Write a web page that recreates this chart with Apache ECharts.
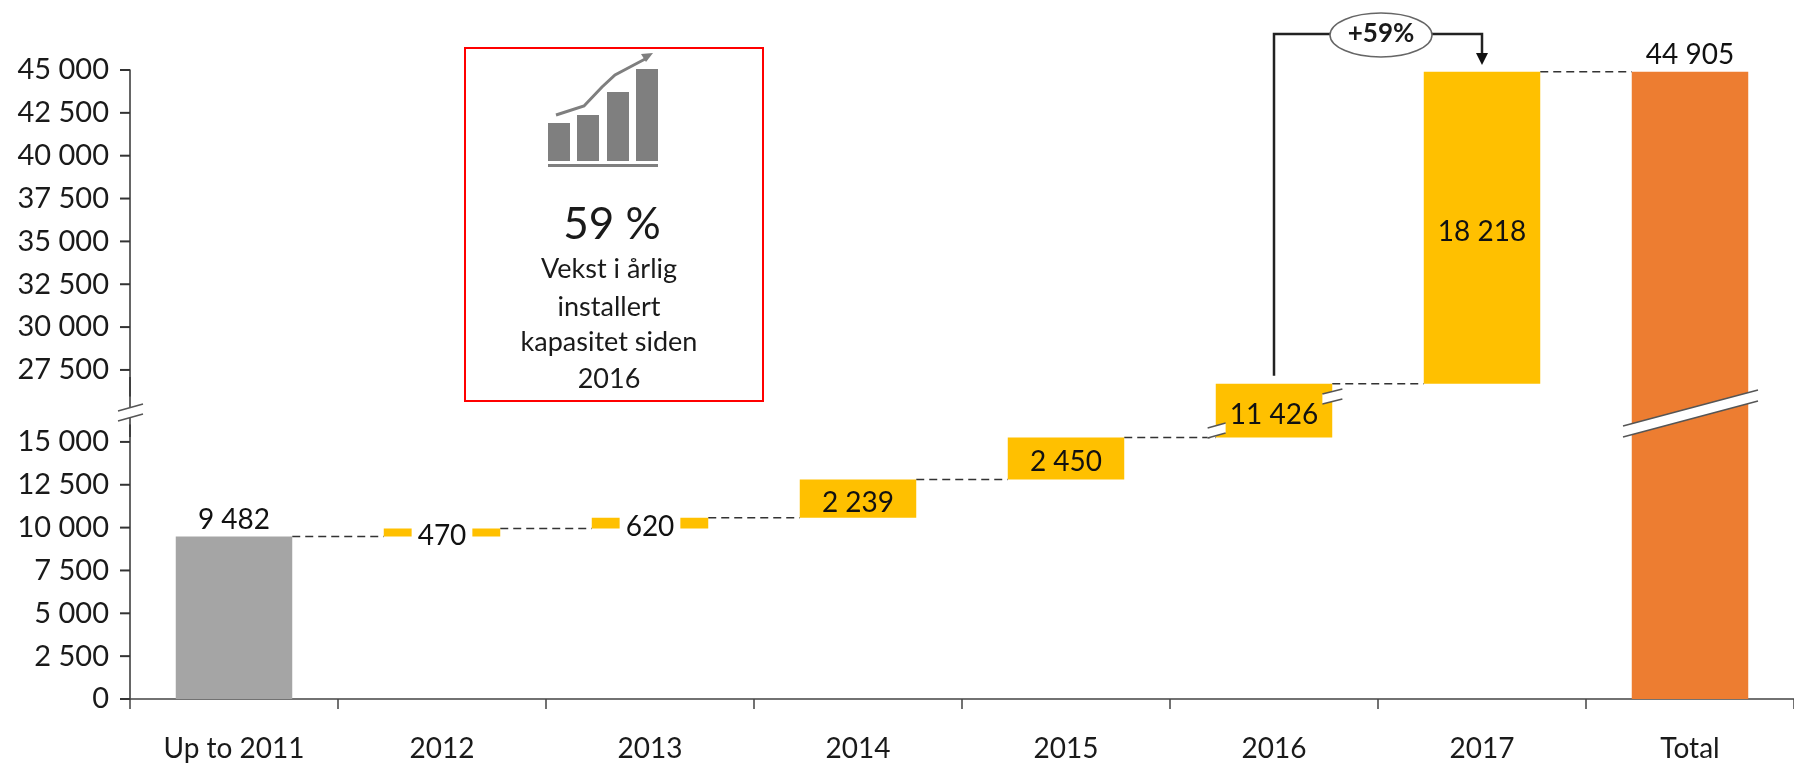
<!DOCTYPE html>
<html>
<head>
<meta charset="utf-8">
<style>
  html, body { margin: 0; padding: 0; background: #fff; }
  #chart { width: 1794px; height: 763px; }
</style>
<script src="https://cdn.jsdelivr.net/npm/echarts@6/dist/echarts.min.js"></script>
</head>
<body>
<div id="chart"></div>
<script>
// Installert kapasitet, vannfall
const categories = ['Up to 2011', '2012', '2013', '2014', '2015', '2016', '2017', 'Total'];
const baseValues = [0, 9482, 9952, 10572, 12811, 15261, 26687, 0];
const barValues = [9482, 470, 620, 2239, 2450, 11426, 18218, 44905];
const barLabels = ['9 482', '470', '620', '2 239', '2 450', '11 426', '18 218', '44 905'];
const barColors = ['#A5A5A5', '#FFC000', '#FFC000', '#FFC000', '#FFC000', '#FFC000', '#FFC000', '#ED7D31'];
const connectorLevels = [9482, 9952, 10572, 12811, 15261, 26687, 44905];
const yTicks = [0, 2500, 5000, 7500, 10000, 12500, 15000, 27500, 30000, 32500, 35000, 37500, 40000, 42500, 45000];
const boxLines = ['Vekst i årlig', 'installert', 'kapasitet siden', '2016'];

const FONT = 'Lato, "Noto Sans", sans-serif';
const TEXT = '#1a1a1a';
const BAR_SHARE = 0.56;
const LABEL_SIZE = 28;

const chart = echarts.init(document.getElementById('chart'), null, { renderer: 'canvas' });

function spaced(v) {
    return String(v).replace(/\B(?=(\d{3})+$)/g, ' ');
}

chart.setOption({
    animation: false,
    backgroundColor: '#fff',
    textStyle: { fontFamily: FONT },
    grid: { left: 130, top: 70, width: 1668, height: 629, containLabel: false },
    xAxis: {
        type: 'category',
        data: categories,
        axisLine: { lineStyle: { color: '#444', width: 1.5 } },
        axisTick: { show: true, alignWithLabel: false, interval: 0, length: 10, lineStyle: { color: '#444', width: 1.5 } },
        axisLabel: { color: TEXT, fontSize: LABEL_SIZE, margin: 36, fontFamily: FONT }
    },
    yAxis: {
        type: 'value',
        min: 0,
        max: 45000,
        breaks: [{ start: 16000, end: 26000, gap: 1700 }],
        breakArea: { show: false },
        splitLine: { show: false },
        axisLine: { show: true, lineStyle: { color: '#333', width: 1.5 } },
        axisTick: { show: false },
        axisLabel: {
            color: TEXT,
            fontSize: 29,
            margin: 21,
            fontFamily: FONT,
            customValues: yTicks,
            formatter: function (v) {
                return spaced(v);
            }
        }
    },
    series: [
        {
            type: 'bar',
            stack: 'fall',
            barWidth: (BAR_SHARE * 100) + '%',
            silent: true,
            itemStyle: { color: 'transparent' },
            data: baseValues
        },
        {
            type: 'bar',
            stack: 'fall',
            barWidth: (BAR_SHARE * 100) + '%',
            z: 3,
            data: barValues.map((v, i) => {
                const outside = i === 0 || i === barValues.length - 1;
                const thin = v < 1000;
                return {
                    value: v,
                    itemStyle: { color: barColors[i] },
                    label: {
                        show: true,
                        position: outside ? 'top' : 'inside',
                        distance: outside ? 4 : 5,
                        offset: outside ? [0, 1] : [0, 4],
                        formatter: barLabels[i],
                        color: '#111',
                        fontSize: LABEL_SIZE,
                        fontFamily: FONT,
                        backgroundColor: thin ? '#fff' : 'transparent',
                        padding: thin ? [0, 6] : 0
                    }
                };
            })
        },
        {
            // stiplede linjer mellom soylene
            type: 'custom',
            silent: true,
            z: 2,
            clip: false,
            data: connectorLevels.map((v, i) => [i, v]),
            renderItem: function (params, api) {
                const p = api.coord([api.value(0), api.value(1)]);
                const band = api.size([1, 0])[0];
                const half = band * BAR_SHARE / 2;
                return {
                    type: 'line',
                    shape: { x1: p[0] + half, y1: p[1], x2: p[0] + band - half, y2: p[1] },
                    style: { stroke: '#333', lineWidth: 1.5, lineDash: [8, 5] }
                };
            }
        },
        {
            // merker paa y-aksen
            type: 'custom',
            silent: true,
            z: 4,
            clip: false,
            data: yTicks.map(v => [0, v]),
            renderItem: function (params, api) {
                const y = api.coord([0, api.value(1)])[1];
                const x = params.coordSys.x;
                return {
                    type: 'line',
                    shape: { x1: x - 10, y1: y, x2: x, y2: y },
                    style: { stroke: '#333', lineWidth: 2 }
                };
            }
        }
    ]
});

// brudd-streker, figur og pil legges oppaa grafen
function slash(x1, y1, x2, y2, gap) {
    return [
        {
            type: 'polygon',
            z: 50,
            shape: { points: [[x1, y1], [x2, y2], [x2, y2 + gap], [x1, y1 + gap]] },
            style: { fill: '#fff' }
        },
        { type: 'line', z: 51, shape: { x1: x1, y1: y1, x2: x2, y2: y2 }, style: { stroke: '#555', lineWidth: 1.5 } },
        { type: 'line', z: 51, shape: { x1: x1, y1: y1 + gap, x2: x2, y2: y2 + gap }, style: { stroke: '#555', lineWidth: 1.5 } }
    ];
}

function label(text, x, y, size, weight) {
    return {
        type: 'text',
        z: 60,
        x: x,
        y: y,
        style: {
            text: text,
            fill: TEXT,
            font: (weight || 'normal') + ' ' + size + 'px ' + FONT,
            align: 'center',
            verticalAlign: 'middle'
        }
    };
}

function overlay() {
    const px = (cat, val) => chart.convertToPixel({ xAxisIndex: 0, yAxisIndex: 0 }, [cat, val]);
    const left = 130;
    const from = px(5, 26687);
    const to = px(6, 44905);
    const brk = px(0, 15000)[1] - 35;
    const band = 1668 / categories.length;
    const bar = band * BAR_SHARE / 2;
    const icon = '#7f7f7f';
    const out = [];

    // aksen har et hull ved bruddet, strekene dekker det
    out.push({
        type: 'line',
        z: 10,
        shape: { x1: left, y1: brk - 30, x2: left, y2: brk + 30 },
        style: { stroke: '#333', lineWidth: 1.5 }
    });
    out.push(...slash(left - 12, brk + 4, left + 13, brk - 3, 10));
    out.push(...slash(px(7, 0)[0] - 67, brk + 19, px(7, 0)[0] + 68, brk - 17, 11));
    out.push(...slash(from[0] - bar - 8, brk + 21, from[0] - bar + 10, brk + 16, 10));
    out.push(...slash(from[0] + bar - 10, brk - 13, from[0] + bar + 10, brk - 18, 10));

    // klammen +59%
    out.push({
        type: 'polyline',
        z: 40,
        shape: { points: [[from[0], from[1] - 8], [from[0], 34], [to[0], 34], [to[0], 56]] },
        style: { stroke: '#222', lineWidth: 2.5, fill: null }
    });
    out.push({
        type: 'polygon',
        z: 41,
        shape: { points: [[to[0] - 6, 53], [to[0] + 6, 53], [to[0], 65]] },
        style: { fill: '#111' }
    });
    out.push({
        type: 'ellipse',
        z: 42,
        shape: { cx: 1381, cy: 35, rx: 51, ry: 22 },
        style: { fill: '#fff', stroke: '#666', lineWidth: 1.5 }
    });
    out.push(label('+59%', 1381, 34, 26, 'bold'));

    // roed boks
    out.push({
        type: 'rect',
        z: 30,
        shape: { x: 465, y: 48, width: 298, height: 353 },
        style: { fill: '#fff', stroke: '#FF0000', lineWidth: 2 }
    });
    // ikon
    [[548, 123], [577, 115], [607, 92], [636, 69]].forEach(b => {
        out.push({ type: 'rect', z: 31, shape: { x: b[0], y: b[1], width: 22, height: 161 - b[1] }, style: { fill: icon } });
    });
    out.push({ type: 'rect', z: 31, shape: { x: 548, y: 164, width: 110, height: 3 }, style: { fill: icon } });
    out.push({
        type: 'polyline',
        z: 31,
        shape: { points: [[556, 115], [584, 106], [602, 87], [615, 75], [630, 67], [647, 58]] },
        style: { stroke: icon, lineWidth: 3, fill: null }
    });
    out.push({
        type: 'polygon',
        z: 31,
        shape: { points: [[653, 53], [641, 54], [646, 62]] },
        style: { fill: icon }
    });

    out.push(label('59 %', 612, 225, 44));
    const lineY = [269, 307, 342, 379];
    boxLines.forEach((t, i) => out.push(label(t, 609, lineY[i], 27)));

    chart.setOption({ graphic: { elements: out } });
}

overlay();
window.addEventListener('resize', () => chart.resize());
</script>
</body>
</html>
